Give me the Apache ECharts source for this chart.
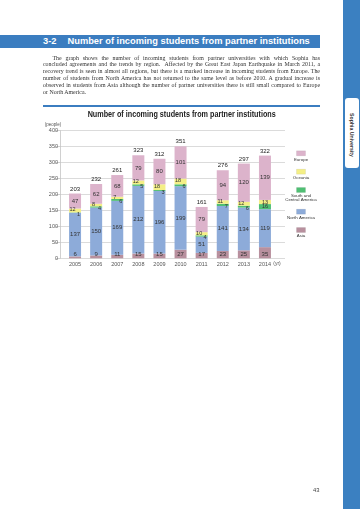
<!DOCTYPE html>
<html>
<head>
<meta charset="utf-8">
<script src="https://cdn.jsdelivr.net/npm/echarts@6/dist/echarts.min.js"></script>
<style>
  html, body { margin:0; padding:0; background:#fff; }
  body { width:360px; height:509px; position:relative; overflow:hidden; }
  #chart { position:absolute; left:0; top:0; width:360px; height:509px; }
  .abs { position:absolute; pointer-events:none; }
  #band { left:0; top:35px; width:320px; height:12.5px; background:#3b7dc0; color:#fff;
          font-family:"Liberation Sans", Arial, sans-serif; font-weight:bold; font-size:9.3px; line-height:12.5px; white-space:nowrap; }
  #para { left:43px; top:54.5px; width:277px; font-family:"Liberation Serif", "DejaVu Serif", serif; font-size:5.9px; color:#333; }
  #para div { height:6.9px; line-height:6.9px; text-align:justify; text-align-last:justify; }
  #para div.last { text-align-last:left; }
  #rule { left:43px; top:105px; width:277px; height:1.6px; background:#3b7dc0; }
  #strip { left:343px; top:0; width:17px; height:509px; background:#3b80c1; }
  #tab { left:345px; top:98px; width:13.5px; height:70px; background:#fff; border-radius:3px; }
  #tabtext { left:351.5px; top:135px; transform:translate(-50%,-50%) rotate(90deg); font-family:"Liberation Sans", Arial, sans-serif; font-weight:bold; font-size:5.2px; color:#333; white-space:nowrap; }
  #pno { left:313px; top:487px; font-family:"Liberation Sans", Arial, sans-serif; font-size:5.8px; color:#444; }
</style>
</head>
<body>
<div id="chart"></div>
<div id="band" class="abs"><span style="position:absolute;left:43px;">3-2</span><span style="position:absolute;left:67.5px;">Number of incoming students from partner institutions</span></div>
<div id="para" class="abs">
  <div style="padding-left:9.5px">The graph shows the number of incoming students from partner universities with which Sophia has</div>
  <div>concluded agreements and the trends by region.&nbsp; Affected by the Great East Japan Earthquake in March 2011, a</div>
  <div>recovery trend is seen in almost all regions, but there is a marked increase in incoming students from Europe. The</div>
  <div>number of students from North America has not returned to the same level as before 2010. A gradual increase is</div>
  <div>observed in students from Asia although the number of partner universities there is still small compared to Europe</div>
  <div class="last">or North America.</div>
</div>
<div id="rule" class="abs"></div>
<div id="strip" class="abs"></div>
<div id="tab" class="abs"></div>
<div id="tabtext" class="abs">Sophia University</div>
<div id="pno" class="abs">43</div>
<script>
const years = ['2005','2006','2007','2008','2009','2010','2011','2012','2013','2014'];
const asia = [6, 9, 11, 15, 15, 27, 17, 23, 25, 35];
const northAmerica = [137, 150, 169, 212, 196, 199, 51, 141, 134, 119];
const southCentralAmerica = [1, 4, 6, 5, 3, 6, 4, 7, 6, 16];
const oceania = [12, 8, 7, 12, 18, 18, 10, 11, 12, 13];
const europe = [47, 62, 68, 79, 80, 101, 79, 94, 120, 139];
const totals = [203, 232, 261, 323, 312, 351, 161, 276, 297, 322];
const yMin = 0, yMax = 400, yStep = 50;

const colors = {
  'Europe': '#dcb3cb',
  'Oceania': '#f4ef86',
  'South and\nCentral America': '#4fbf73',
  'North America': '#8dabd9',
  'Asia': '#b8909e'
};

const chart = echarts.init(document.getElementById('chart'));
const FONT = '"Liberation Sans", Arial, sans-serif';
const lblBase = { show: true, fontFamily: FONT, fontSize: 6, color: '#333' };
const BW = 12;

function smallItems(arr, dx, dy) {
  return arr.map((v, i) => {
    const big = southCentralAmerica[i] >= 10;
    return { value: v, label: { offset: big ? [0, 0] : [dx, dy] } };
  });
}

const option = {
  animation: false,
  grid: [
    { left: 64.5, right: 84.5, top: 130.7, bottom: 250.7 },
    { left: 60, right: 75, top: 130.7, bottom: 250.7 }
  ],
  xAxis: [
    { type: 'category', gridIndex: 0, data: years,
      axisLine: { show: false }, axisTick: { show: false },
      axisLabel: { fontFamily: FONT, fontSize: 5.5, color: '#555', margin: 3 } },
    { type: 'category', gridIndex: 1, data: [''], show: false }
  ],
  yAxis: [
    { type: 'value', gridIndex: 0, min: yMin, max: yMax, interval: yStep, show: false },
    { type: 'value', gridIndex: 1, min: yMin, max: yMax, interval: yStep,
      axisLine: { show: true, lineStyle: { color: '#c4c4c4', width: 0.8 } },
      axisTick: { show: true, length: 4, lineStyle: { color: '#c4c4c4', width: 0.8 } },
      axisLabel: { fontFamily: FONT, fontSize: 5.5, color: '#555', margin: 2 },
      splitLine: { lineStyle: { color: '#d2d2d2', width: 0.8 } } }
  ],
  series: [
    { name: 'Asia', type: 'bar', stack: 't', barWidth: BW, data: asia,
      itemStyle: { color: colors['Asia'] },
      label: Object.assign({}, lblBase, { position: 'insideBottom', distance: 1 }) },
    { name: 'North America', type: 'bar', stack: 't', barWidth: BW, data: northAmerica,
      itemStyle: { color: colors['North America'] },
      label: Object.assign({}, lblBase, { position: 'inside' }) },
    { name: 'South and\nCentral America', type: 'bar', stack: 't', barWidth: BW,
      data: smallItems(southCentralAmerica, 3.5, 1.5),
      itemStyle: { color: colors['South and\nCentral America'] },
      label: Object.assign({}, lblBase, { position: 'inside', fontSize: 5.5 }) },
    { name: 'Oceania', type: 'bar', stack: 't', barWidth: BW,
      data: smallItems(oceania, -2.5, -0.5),
      itemStyle: { color: colors['Oceania'] },
      label: Object.assign({}, lblBase, { position: 'inside', fontSize: 5.5 }) },
    { name: 'Europe', type: 'bar', stack: 't', barWidth: BW, data: europe,
      itemStyle: { color: colors['Europe'] },
      label: Object.assign({}, lblBase, { position: 'inside' }) },
    { name: 'Total', type: 'bar', barWidth: BW, barGap: '-100%', data: totals, silent: true, z: 1,
      itemStyle: { color: 'rgba(0,0,0,0)' },
      label: Object.assign({}, lblBase, { position: 'top', distance: 1.5, color: '#222' }) }
  ],
  graphic: []
};

const g = option.graphic;
g.push({ type: 'text', x: 181.7, y: 114.5, scaleX: 0.76, style: { text: 'Number of incoming students from partner institutions',
  fontFamily: FONT, fontWeight: 'bold', fontSize: 9.5,
  fill: '#222', align: 'center', verticalAlign: 'middle' } });
g.push({ type: 'text', x: 53, y: 124.3, style: { text: '(people)', fontFamily: FONT, fontSize: 4.5, fill: '#555', align: 'center', verticalAlign: 'middle' } });
g.push({ type: 'text', x: 277, y: 263.6, style: { text: '(yr)', fontFamily: FONT, fontSize: 5, fill: '#555', align: 'center', verticalAlign: 'middle' } });

const legendOrder = ['Europe', 'Oceania', 'South and\nCentral America', 'North America', 'Asia'];
const swY = [153.3, 171.7, 190, 211.7, 230];
const txY = [159.5, 177.8, 197.8, 217.8, 236];
legendOrder.forEach((n, i) => {
  g.push({ type: 'rect', shape: { x: 301 - 4.5, y: swY[i] - 2.5, width: 9, height: 5 },
    style: { fill: colors[n], stroke: 'rgba(0,0,0,0.12)', lineWidth: 0.5 } });
  g.push({ type: 'text', x: 301, y: txY[i], style: { text: n, fontFamily: FONT, fontSize: 4.4, lineHeight: 4.6,
    fill: '#333', align: 'center', verticalAlign: 'middle' } });
});

chart.setOption(option);
</script>
</body>
</html>
